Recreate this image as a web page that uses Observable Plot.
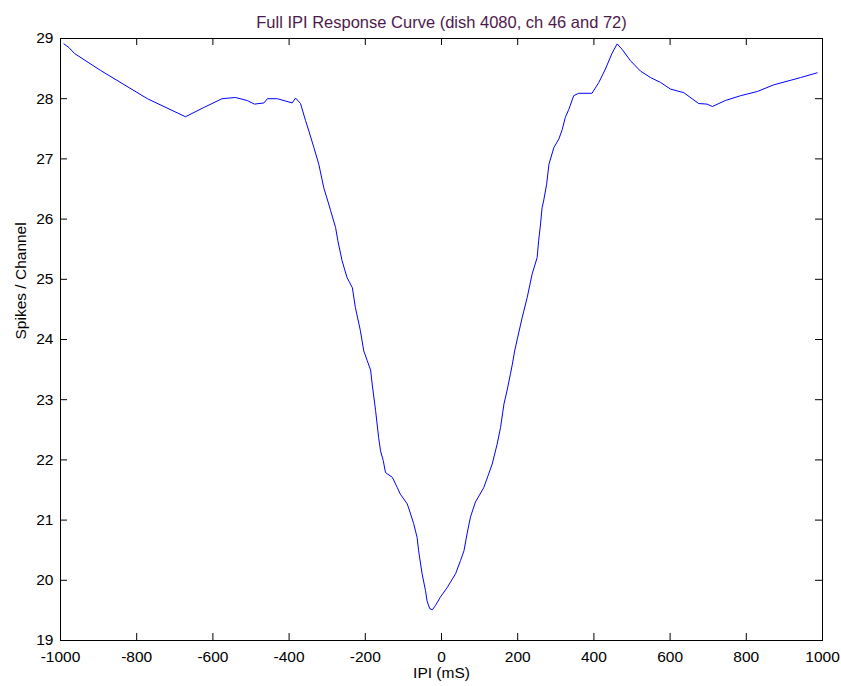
<!DOCTYPE html>
<html>
<head>
<meta charset="utf-8">
<script src="https://cdn.jsdelivr.net/npm/d3@7"></script>
<script src="https://cdn.jsdelivr.net/npm/@observablehq/plot@0.6"></script>
<style>
  html, body { margin: 0; padding: 0; background: #fff; }
  #chart { width: 841px; height: 686px; }
</style>
</head>
<body>
<div id="chart"></div>
<script>
// Inter-pulse interval (ms) and mean spikes per channel
const ipi = [
  -991, -978, -963, -895, -772, -672, -625, -576, -541, -510, -491, -466, -457, -431,
  -392, -383, -370, -357, -348, -335, -322, -309, -296, -291, -278, -272, -261, -248,
  -234, -226, -213, -204, -195, -186, -182, -173, -165, -160, -153, -147, -129, -116,
  -108, -90, -81, -73, -64, -60, -51, -42, -38, -31, -24, -16, -3, 15, 37, 50, 59, 67,
  76, 89, 111, 124, 133, 146, 155, 164, 172, 181, 186, 192, 199, 212, 225, 238, 251,
  255, 260, 264, 268, 276, 282, 295, 308, 317, 325, 334, 347, 360, 395, 413, 430, 448,
  461, 474, 496, 522, 549, 575, 601, 636, 675, 697, 711, 745, 785, 829, 872, 942, 986
];
const spikes = [
  28.91, 28.85, 28.75, 28.47, 28.00, 27.70, 27.85, 28.00, 28.02, 27.97, 27.91, 27.93, 28.00, 28.00,
  27.93, 28.01, 27.92, 27.64, 27.46, 27.19, 26.91, 26.52, 26.25, 26.14, 25.86, 25.64, 25.31, 25.03,
  24.86, 24.53, 24.15, 23.81, 23.65, 23.49, 23.26, 22.82, 22.37, 22.15, 21.99, 21.79, 21.71, 21.54,
  21.43, 21.27, 21.10, 20.94, 20.71, 20.49, 20.11, 19.83, 19.66, 19.53, 19.51, 19.58, 19.72, 19.88, 20.11, 20.33, 20.49, 20.77,
  21.05, 21.30, 21.54, 21.77, 21.93, 22.26, 22.54, 22.93, 23.15, 23.43, 23.59, 23.81, 24.01, 24.37, 24.70, 25.09, 25.36,
  25.64, 25.92, 26.19, 26.30, 26.58, 26.91, 27.19, 27.33, 27.49, 27.69, 27.82, 28.05, 28.09, 28.09, 28.27, 28.49, 28.76,
  28.91, 28.82, 28.63, 28.46, 28.35, 28.27, 28.16, 28.10, 27.92, 27.91, 27.87, 27.97, 28.05, 28.12, 28.23, 28.35, 28.43
];

const xTicks = [-1000, -800, -600, -400, -200, 0, 200, 400, 600, 800, 1000];
const yTicks = [19, 20, 21, 22, 23, 24, 25, 26, 27, 28, 29];

const titleText = "Full IPI Response Curve (dish 4080, ch 46 and 72)";
const xLabel = "IPI (mS)";
const yLabel = "Spikes / Channel";

const curve = ipi.map((x, i) => ({x, y: spikes[i]}));

const W = 841, H = 686;
const mL = 60, mR = 19, mT = 38, mB = 46;
const frameW = W - mL - mR, frameH = H - mT - mB;
const tickLen = 7;

const chart = Plot.plot({
  width: W,
  height: H,
  marginLeft: mL,
  marginRight: mR,
  marginTop: mT,
  marginBottom: mB,
  style: {
    fontFamily: "'Liberation Sans', Arial, Helvetica, sans-serif",
    fontSize: "15.5px",
    color: "#000",
    background: "#fff",
    overflow: "visible"
  },
  x: {domain: [-1000, 1000], ticks: xTicks, tickSize: 0, tickPadding: 10, tickFormat: d => String(d), label: null},
  y: {domain: [19, 29], ticks: yTicks, tickSize: 0, tickPadding: 7, tickFormat: d => String(d), label: null},
  marks: [
    Plot.frame({stroke: "#000", strokeWidth: 1}),
    // inward ticks on all four sides of the box
    Plot.tickX(xTicks, {x: d => d, insetTop: frameH - tickLen, stroke: "#000"}),
    Plot.tickX(xTicks, {x: d => d, insetBottom: frameH - tickLen, stroke: "#000"}),
    Plot.tickY(yTicks, {y: d => d, insetRight: frameW - tickLen, stroke: "#000"}),
    Plot.tickY(yTicks, {y: d => d, insetLeft: frameW - tickLen, stroke: "#000"}),
    Plot.line(curve, {x: "x", y: "y", stroke: "#0000ff", strokeWidth: 1}),
    Plot.text([titleText], {frameAnchor: "top", dy: -22, fontSize: 16.5, fill: "#4e1a4c"}),
    Plot.text([xLabel], {frameAnchor: "bottom", dy: 37, fill: "#000"}),
    Plot.text([yLabel], {frameAnchor: "left", dx: -39, rotate: -90, fill: "#000"})
  ]
});

document.getElementById("chart").appendChild(chart);
</script>
</body>
</html>
